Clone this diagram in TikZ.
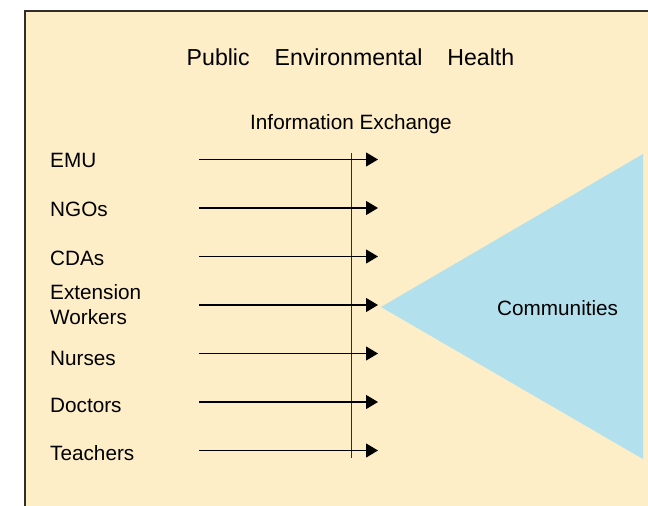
\documentclass[tikz,border=0pt]{standalone}
\usepackage{fontspec}
\setmainfont{Liberation Sans}
\usetikzlibrary{arrows.meta}

\definecolor{paper}{RGB}{253,238,200}
\definecolor{sky}{RGB}{178,224,237}
\definecolor{rim}{RGB}{50,45,40}

\tikzset{
    lbl/.style = {anchor=base west, inner sep=0pt, font=\fontsize{20.8}{25}\selectfont},
    head/.style = {anchor=base, inner sep=0pt, font=\fontsize{20.8}{25}\selectfont},
    flow/.style = {line width=1.1bp, -{Triangle[length=12bp,width=14bp]}}
}

\begin{document}
\begin{tikzpicture}[%
        x = 1bp, y = -1bp
    ]
      \useasboundingbox (0,0) rectangle (648,506);
      \fill [white] (0,0) rectangle (648,506);
      \draw [fill=paper, draw=rim, line width=1.6bp] (25,11) rectangle (652,512);

      % communities wedge
      \fill [sky] (381,307) -- (643,154) -- (643,459) -- cycle;
      \node (comm) [lbl] at (497,315) {Communities};

      % headings
      \node (title) [head, font=\fontsize{23.2}{28}\selectfont] at (350.5,66) {Public\hspace{25bp}Environmental\hspace{25bp}Health};
      \node (info) [head] at (351,130) {Information Exchange};

      % groups
      \node (emu) [lbl] at (50,168) {EMU};
      \node (ngo) [lbl] at (50,216.5) {NGOs};
      \node (cda) [lbl] at (50,265) {CDAs};
      \node (ext) [lbl] at (50,299.5) {Extension};
      \node (wrk) [lbl] at (50,324.5) {Workers};
      \node (nur) [lbl] at (50,365) {Nurses};
      \node (doc) [lbl] at (50,412) {Doctors};
      \node (tea) [lbl] at (50,460) {Teachers};

      % exchange bar
      \coordinate (bt) at (351,153);
      \coordinate (bb) at (351,458);
      \draw [rim, line width=1bp] (bt) -- (bb);

      % arrows
      \coordinate (s1) at (199,159.5);   \coordinate (e1) at (378,159.5);
      \coordinate (s2) at (199,208);     \coordinate (e2) at (378,208);
      \coordinate (s3) at (199,256.5);   \coordinate (e3) at (378,256.5);
      \coordinate (s4) at (199,305);     \coordinate (e4) at (378,305);
      \coordinate (s5) at (199,353.5);   \coordinate (e5) at (378,353.5);
      \coordinate (s6) at (199,402);     \coordinate (e6) at (378,402);
      \coordinate (s7) at (199,450.5);   \coordinate (e7) at (378,450.5);
      \draw [flow] (s1) -- (e1);
      \draw [flow] (s2) -- (e2);
      \draw [flow] (s3) -- (e3);
      \draw [flow] (s4) -- (e4);
      \draw [flow] (s5) -- (e5);
      \draw [flow] (s6) -- (e6);
      \draw [flow] (s7) -- (e7);
    \end{tikzpicture}
\end{document}
